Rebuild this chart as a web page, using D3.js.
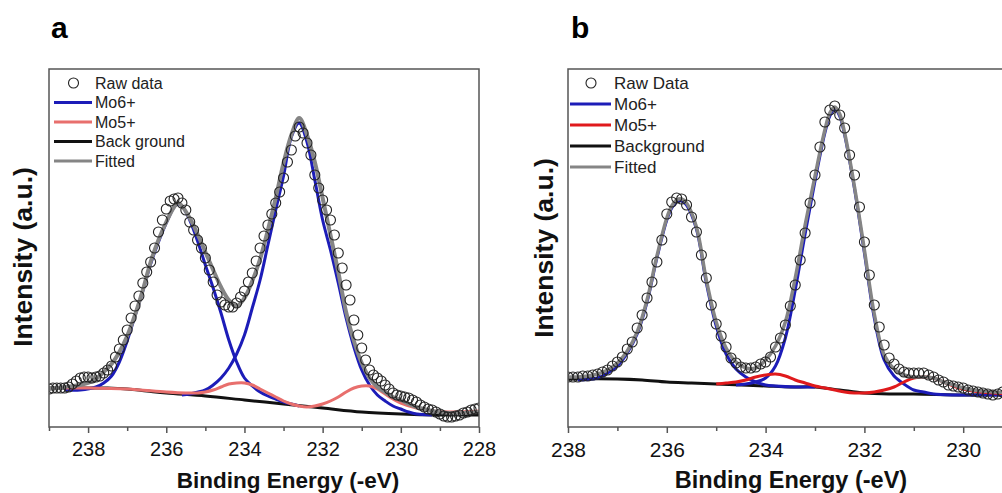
<!DOCTYPE html>
<html>
<head>
<meta charset="utf-8">
<script src="https://cdn.jsdelivr.net/npm/d3@7"></script>
<style>
  body { margin: 0; background: #fff; }
  svg { display: block; }
</style>
</head>
<body>
<div id="chart"></div>
<script>
// ---- panel a : [binding energy (eV), intensity (a.u.)] ----
const rawA = [
  [239.0,38],[238.9,39],[238.8,39],[238.7,39],[238.6,39],[238.5,40],[238.4,43],[238.3,46],[238.2,49],[238.1,50],
  [238.0,50],[237.9,49],[237.8,50],[237.7,51],[237.6,54],[237.5,57],[237.4,61],[237.3,70],[237.2,78],[237.1,87],
  [237.0,97],[236.9,109],[236.8,121],[236.7,131],[236.6,144],[236.5,155],[236.4,165],[236.3,179],[236.2,195],[236.1,207],
  [236.0,218],[235.9,226],[235.8,228],[235.7,229],[235.6,224],[235.5,217],[235.4,205],[235.3,197],[235.2,187],[235.1,179],
  [235.0,169],[234.9,157],[234.8,145],[234.7,132],[234.6,125],[234.5,122],[234.4,120],[234.3,120],[234.2,124],[234.1,130],
  [234.0,136],[233.9,145],[233.8,154],[233.7,166],[233.6,179],[233.5,191],[233.4,202],[233.3,213],[233.2,224],[233.1,235],
  [233.0,249],[232.9,265],[232.8,277],[232.7,291],[232.6,300],[232.5,294],[232.4,284],[232.3,272],[232.2,252],[232.1,239],
  [232.0,227],[231.9,217],[231.8,207],[231.7,192],[231.6,174],[231.5,159],[231.4,142],[231.3,127],[231.2,107],[231.1,92],
  [231.0,79],[230.9,67],[230.8,57],[230.7,52],[230.6,49],[230.5,46],[230.4,42],[230.3,38],[230.2,34],[230.1,32],
  [230.0,31],[229.9,30],[229.8,29],[229.7,27],[229.6,25],[229.5,22],[229.4,20],[229.3,18],[229.2,17],[229.1,15],
  [229.0,13],[228.9,11],[228.8,10],[228.7,10],[228.6,11],[228.5,12],[228.4,14],[228.3,15],[228.2,17],[228.1,18],
  [228.0,19]
];
const mo6A1 = [
  [238.6,37],[238.2,37],[237.8,40],[237.6,44],[237.4,51],[237.2,65],[237.0,86],[236.8,111],[236.6,136],[236.4,163],
  [236.2,185],[236.0,204],[235.8,220],[235.7,223],[235.6,221],[235.4,207],[235.2,186],[235.0,162],[234.8,139],[234.6,114],
  [234.4,87],[234.2,65],[234.0,49],[233.8,41],[233.6,35],[233.4,31],[233.2,28],[233.0,25],[232.8,23],[232.6,21]
];
const mo6A2 = [
  [235.6,32],[235.4,33],[235.0,37],[234.8,42],[234.6,49],[234.4,59],[234.2,73],[234.0,92],[233.8,119],[233.6,147],
  [233.4,182],[233.2,217],[233.0,251],[232.8,290],[232.6,304],[232.4,285],[232.2,247],[232.0,207],[231.8,177],[231.6,144],
  [231.4,109],[231.2,80],[231.0,57],[230.8,42],[230.6,32],[230.4,26],[230.2,21],[230.0,18],[229.8,15],[229.6,13],[229.2,12]
];
const mo5A = [
  [238.6,39],[238.0,39],[237.0,38],[236.0,35],[235.5,34],[235.2,34],[235.0,35],[234.8,37],[234.6,40],[234.4,43],
  [234.2,44],[234.0,44],[233.8,42],[233.6,38],[233.4,34],[233.2,30],[233.0,26],[232.8,23],[232.6,21],[232.4,20],
  [232.2,21],[232.0,23],[231.8,26],[231.6,30],[231.4,35],[231.2,39],[231.0,41],[230.8,41],[230.6,38],[230.4,33],
  [230.2,28],[230.0,24],[229.6,19],[229.2,16],[228.6,15],[228.0,16]
];
const bgA = [
  [239,39],[238,39],[237.5,39],[237,38],[236.5,36],[236,34],[235,31],[234,27],[233,23],[232,19],[231,15],[230,13],[229,12],[228,12]
];
const fitA = [
  [239.0,38],[238.6,40],[238.2,42],[238.0,44],[237.8,48],[237.6,55],[237.4,63],[237.2,75],[237.0,91],[236.8,112],
  [236.6,137],[236.4,165],[236.2,187],[236.0,205],[235.8,220],[235.7,224],[235.6,221],[235.4,209],[235.2,193],[235.0,175],
  [234.8,157],[234.6,140],[234.4,127],[234.2,121],[234.0,129],[233.8,146],[233.6,168],[233.4,197],[233.2,229],[233.0,264],
  [232.8,292],[232.6,309],[232.4,292],[232.2,265],[232.0,229],[231.8,192],[231.6,155],[231.4,115],[231.2,86],[231.0,64],
  [230.8,49],[230.6,40],[230.4,35],[230.2,30],[230.0,27],[229.8,23],[229.6,20],[229.2,16],[228.8,14],[228.4,14],[228.0,15]
];

// ---- panel b ----
const rawB = [
  [238.0,50],[237.9,50],[237.8,50],[237.7,51],[237.6,51],[237.5,52],[237.4,53],[237.3,55],[237.2,57],[237.1,61],
  [237.0,65],[236.9,70],[236.8,78],[236.7,85],[236.6,99],[236.5,112],[236.4,129],[236.3,145],[236.2,165],[236.1,187],
  [236.0,213],[235.9,225],[235.8,229],[235.7,228],[235.6,222],[235.5,210],[235.4,195],[235.3,172],[235.2,149],[235.1,122],
  [235.0,103],[234.9,91],[234.8,80],[234.7,69],[234.6,64],[234.5,60],[234.4,59],[234.3,59],[234.2,60],[234.1,63],
  [234.0,65],[233.9,70],[233.8,80],[233.7,89],[233.6,102],[233.5,121],[233.4,142],[233.3,167],[233.2,194],[233.1,224],
  [233.0,252],[232.9,280],[232.8,305],[232.7,317],[232.6,321],[232.5,312],[232.4,299],[232.3,272],[232.2,252],[232.1,220],
  [232.0,185],[231.9,152],[231.8,122],[231.7,100],[231.6,82],[231.5,69],[231.4,63],[231.3,58],[231.2,55],[231.1,54],
  [231.0,54],[230.9,54],[230.8,54],[230.7,52],[230.6,50],[230.5,47],[230.4,45],[230.3,42],[230.2,41],[230.1,40],
  [230.0,39],[229.9,37],[229.8,36],[229.7,35],[229.6,34],[229.5,33],[229.4,32],[229.3,33],[229.2,35],[229.1,35],
  [229.0,35]
];
const mo6B1 = [
  [237.8,47],[237.4,49],[237.2,54],[237.0,61],[236.8,74],[236.6,93],[236.4,125],[236.2,169],[236.0,207],[235.9,219],
  [235.8,225],[235.7,226],[235.6,222],[235.4,198],[235.2,144],[235.0,101],[234.8,73],[234.6,58],[234.4,50],[234.2,45],
  [234.0,42],[233.8,41],[233.4,40],[233.0,40]
];
const mo6B2 = [
  [234.6,42],[234.4,43],[234.2,45],[234.0,49],[233.8,61],[233.6,89],[233.4,137],[233.2,193],
  [233.0,246],[232.8,294],[232.7,311],[232.6,318],[232.5,311],[232.4,292],[232.2,238],[232.0,174],[231.8,109],[231.6,67],
  [231.4,51],[231.2,43],[231.0,37],[230.8,35],[230.6,33],[230.2,32],[229.8,32],[229.0,32]
];
const mo5B = [
  [235.0,43],[234.8,44],[234.6,45],[234.4,47],[234.2,50],[234.0,52],[233.8,53],[233.6,51],[233.4,47],
  [233.2,44],[233.0,41],[232.8,39],[232.6,37],[232.4,35],[232.2,34],[232.0,34],[231.8,35],[231.6,37],[231.4,40],
  [231.2,45],[231.0,49],[230.8,50],[230.6,49],[230.4,45],[230.2,41],[230.0,38],[229.8,36],[229.4,34],[229.0,33]
];
const bgB = [
  [238,48],[237,48],[236.5,47],[236,45],[235.5,44],[235,43],[234.5,42],[234,41],[233.5,40],[233,40],
  [232.5,37],[232,34],[231.5,33],[231,33],[230,32],[229,32],[228,32]
];
const fitB = [
  [238.0,50],[237.8,50],[237.6,51],[237.4,53],[237.2,57],[237.0,64],[236.8,76],[236.6,95],[236.4,127],[236.2,171],
  [236.0,209],[235.9,221],[235.8,227],[235.7,228],[235.6,224],[235.4,200],[235.2,147],[235.0,105],[234.8,79],[234.6,65],
  [234.4,59],[234.2,59],[234.0,67],[233.8,81],[233.6,105],[233.4,149],[233.2,202],[233.0,251],[232.8,297],[232.7,314],
  [232.6,320],[232.5,313],[232.4,294],[232.2,240],[232.0,177],[231.8,113],[231.6,72],[231.4,58],[231.2,52],[231.0,50],
  [230.8,50],[230.6,49],[230.4,45],[230.2,42],[230.0,39],[229.8,37],[229.6,36],[229.4,35],[229.0,35]
];

// ticks and labels
const majorTicksA = [238, 236, 234, 232, 230, 228];
const minorTicksA = [239, 237, 235, 233, 231, 229];
const majorTicksB = [238, 236, 234, 232, 230];
const minorTicksB = [237, 235, 233, 231, 229];
const legendA = ["Raw data", "Mo6+", "Mo5+", "Back ground", "Fitted"];
const legendB = ["Raw Data", "Mo6+", "Mo5+", "Background", "Fitted"];

const FONT = "'Liberation Sans', Arial, sans-serif";
const svg = d3.select("#chart").append("svg").attr("width", 1002).attr("height", 493);

function drawPanel(p) {
	var x = d3.scaleLinear().domain(p.xDomain).range([p.left, p.right]);
	var y = d3.scaleLinear().domain([0, 358]).range([p.bottom, p.top]);
	var g = svg.append("g");

	svg.append("clipPath").attr("id", "clip-" + p.name)
		.append("rect")
		.attr("x", p.left).attr("y", p.top)
		.attr("width", p.right - p.left).attr("height", p.bottom - p.top);
	var plot = g.append("g").attr("clip-path", `url(#clip-${p.name})`);

	var line = d3.line()
		.x(d => x(d[0]))
		.y(d => y(d[1]))
		.curve(d3.curveCatmullRom.alpha(0.5));

	// component curves, then the fit on top
	p.lines.forEach((s) => {
		plot.append("path")
			.datum(s.data)
			.attr("d", line)
			.attr("fill", "none")
			.attr("stroke", s.color)
			.attr("stroke-width", s.width)
			.attr("stroke-linejoin", "round");
	});

	// raw data (open circles)
	plot.append("g").selectAll("circle")
		.data(p.raw)
		.join("circle")
		.attr("cx", d => x(d[0]))
		.attr("cy", d => y(d[1]))
		.attr("r", 5)
		.attr("fill", "none")
		.attr("stroke", "#222")
		.attr("stroke-width", 1.1);

	// frame
	g.append("rect")
		.attr("x", p.left).attr("y", p.top)
		.attr("width", p.right - p.left).attr("height", p.bottom - p.top)
		.attr("fill", "none")
		.attr("stroke", "#555")
		.attr("stroke-width", 1.5);

	// x axis: labelled major ticks + short minor ticks
	var major = g.append("g")
		.attr("transform", `translate(0, ${p.bottom})`)
		.call(d3.axisBottom(x).tickValues(p.major).tickSize(6).tickPadding(9).tickFormat(d3.format("d")));
	var minor = g.append("g")
		.attr("transform", `translate(0, ${p.bottom})`)
		.call(d3.axisBottom(x).tickValues(p.minor).tickSize(4).tickFormat(""));
	[major, minor].forEach((a) => {
		a.select(".domain").remove();
		a.selectAll("line").attr("stroke", "#555").attr("stroke-width", 1.5);
	});
	major.selectAll("text")
		.attr("fill", "#111")
		.style("font-family", FONT)
		.style("font-size", p.tickFont + "px");

	// titles
	g.append("text")
		.text("Binding Energy (-eV)")
		.attr("x", p.xTitleX).attr("y", 488)
		.attr("text-anchor", "middle")
		.attr("fill", "#111")
		.style("font-family", FONT).style("font-weight", "bold")
		.style("font-size", p.xTitleFont + "px");
	g.append("text")
		.text("Intensity (a.u.)")
		.attr("transform", `translate(${p.yTitleX}, ${p.yTitleY}) rotate(-90)`)
		.attr("text-anchor", "middle")
		.attr("fill", "#111")
		.style("font-family", FONT).style("font-weight", "bold")
		.style("font-size", "26.5px");
	g.append("text")
		.text(p.name)
		.attr("x", p.letterX).attr("y", 38)
		.attr("fill", "#000")
		.style("font-family", FONT).style("font-weight", "bold")
		.style("font-size", "30px");

	// legend
	var lg = g.append("g").attr("class", "legend");
	p.legend.forEach((label, i) => {
		var cy = p.legY + i * p.legStep;
		if (i == 0) {
			lg.append("circle")
				.attr("cx", p.legX1 + (p.legX2 - p.legX1) / 2 + 0.5).attr("cy", cy).attr("r", 5)
				.attr("fill", "none").attr("stroke", "#222").attr("stroke-width", 1.1);
		} else {
			var s = p.legendLines[i - 1];
			lg.append("line")
				.attr("x1", p.legX1).attr("x2", p.legX2)
				.attr("y1", cy).attr("y2", cy)
				.attr("stroke", s.color).attr("stroke-width", 3);
		}
		lg.append("text")
			.text(label)
			.attr("x", p.legX2 + 3).attr("y", cy)
			.attr("dy", "0.35em")
			.attr("fill", "#222")
			.style("font-family", FONT)
			.style("font-size", p.legFont + "px");
	});
}

const BLUE = "#1c1cb8", GRAY = "#858585", BLACK = "#111";

drawPanel({
	name: "a",
	xDomain: [239, 228], left: 49, right: 479, top: 69, bottom: 427,
	major: majorTicksA, minor: minorTicksA, tickFont: 20,
	raw: rawA,
	lines: [
		{data: bgA, color: BLACK, width: 3},
		{data: mo6A1, color: BLUE, width: 3},
		{data: mo6A2, color: BLUE, width: 3},
		{data: mo5A, color: "#e86f6d", width: 3},
		{data: fitA, color: GRAY, width: 4}
	],
	legendLines: [{color: BLUE}, {color: "#e86f6d"}, {color: BLACK}, {color: GRAY}],
	legend: legendA, legX1: 54, legX2: 92, legY: 83, legStep: 19.5, legFont: 16,
	xTitleX: 288, xTitleFont: 22.5,
	yTitleX: 32, yTitleY: 257,
	letterX: 51
});

drawPanel({
	name: "b",
	xDomain: [238, 229], left: 568, right: 1012.6, top: 69, bottom: 427,
	major: majorTicksB, minor: minorTicksB, tickFont: 21,
	raw: rawB,
	lines: [
		{data: bgB, color: BLACK, width: 3},
		{data: mo6B1, color: BLUE, width: 3},
		{data: mo6B2, color: BLUE, width: 3},
		{data: mo5B, color: "#e01a1c", width: 3},
		{data: fitB, color: GRAY, width: 3.5}
	],
	legendLines: [{color: BLUE}, {color: "#e01a1c"}, {color: BLACK}, {color: GRAY}],
	legend: legendB, legX1: 570, legX2: 611, legY: 83, legStep: 21, legFont: 17,
	xTitleX: 791, xTitleFont: 23.5,
	yTitleX: 553, yTitleY: 248,
	letterX: 571
});
</script>
</body>
</html>
